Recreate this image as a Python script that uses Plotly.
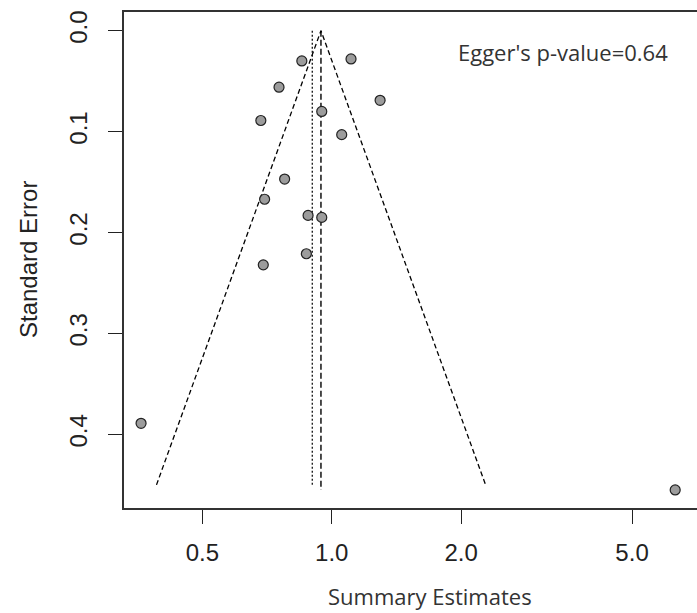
import plotly.graph_objects as go

# Study data
estimates = [0.852, 1.109, 0.754, 1.296, 0.948, 0.684, 1.055, 0.777, 0.698,
             0.881, 0.948, 0.873, 0.693, 0.360, 6.30]
std_errors = [0.030, 0.028, 0.056, 0.069, 0.080, 0.089, 0.103, 0.147, 0.167,
              0.183, 0.185, 0.221, 0.232, 0.389, 0.455]

# Funnel (pseudo 95% limits) and summary lines
funnel_x = [0.391, 0.944, 2.281]
funnel_se = [0.45, 0.0, 0.45]
summary_dashed_x = [0.944, 0.944]
summary_dashed_se = [0.0, 0.455]
summary_dotted_x = [0.901, 0.901]
summary_dotted_se = [0.0, 0.45]

x_tickvals = [0.5, 1.0, 2.0, 5.0]
x_ticktext = ["0.5", "1.0", "2.0", "5.0"]
y_tickvals = [0.0, 0.1, 0.2, 0.3, 0.4]
y_ticktext = ["0.0", "0.1", "0.2", "0.3", "0.4"]

fig = go.Figure()
fig.add_trace(go.Scatter(x=funnel_x, y=funnel_se, mode="lines",
                         line=dict(color="black", width=1.3, dash="5px,3px"),
                         hoverinfo="skip", showlegend=False))
fig.add_trace(go.Scatter(x=summary_dotted_x, y=summary_dotted_se, mode="lines",
                         line=dict(color="black", width=1.2, dash="2px,2px"),
                         hoverinfo="skip", showlegend=False))
fig.add_trace(go.Scatter(x=summary_dashed_x, y=summary_dashed_se, mode="lines",
                         line=dict(color="black", width=1.4, dash="6px,3px"),
                         hoverinfo="skip", showlegend=False))
fig.add_trace(go.Scatter(x=estimates, y=std_errors, mode="markers",
                         marker=dict(size=10, color="#9c9c9c",
                                     line=dict(color="#222", width=1.2)),
                         showlegend=False))

axis_font = dict(family="Liberation Sans, Arial, sans-serif", size=24, color="#222")
note_font = dict(family="Open Sans, sans-serif", size=22, color="#333")

fig.update_layout(
    width=697, height=613,
    margin=dict(l=124, r=0, t=12, b=105),
    paper_bgcolor="white", plot_bgcolor="white",
    xaxis=dict(type="log", range=[-0.4834, 0.8501],
               tickvals=x_tickvals, ticktext=x_ticktext,
               ticks="outside", ticklen=14, tickwidth=1.3, tickcolor="#222",
               showline=True, linecolor="#333", linewidth=1.5, mirror=True,
               showgrid=False, zeroline=False, tickfont=axis_font,
               ticklabelstandoff=8),
    yaxis=dict(range=[0.4729, -0.0185],
               tickvals=y_tickvals, ticktext=y_ticktext, tickangle=-90,
               ticks="outside", ticklen=14, tickwidth=1.3, tickcolor="#222",
               showline=True, linecolor="#333", linewidth=1.5, mirror=False,
               showgrid=False, zeroline=False, tickfont=axis_font,
               ticklabelstandoff=12),
    annotations=[
        dict(text="Egger's p-value=0.64", x=0.7653, y=0.919, xref="paper", yref="paper",
             xanchor="center", yanchor="middle", showarrow=False, font=note_font),
        dict(text="Summary Estimates", x=0.534, y=-0.177, xref="paper", yref="paper",
             xanchor="center", yanchor="middle", showarrow=False, font=note_font),
        dict(text="Standard Error", x=-0.1675, y=0.5, xref="paper", yref="paper",
             xanchor="center", yanchor="middle", showarrow=False, textangle=-90,
             font=axis_font),
    ],
)

fig.write_html("out.html")
